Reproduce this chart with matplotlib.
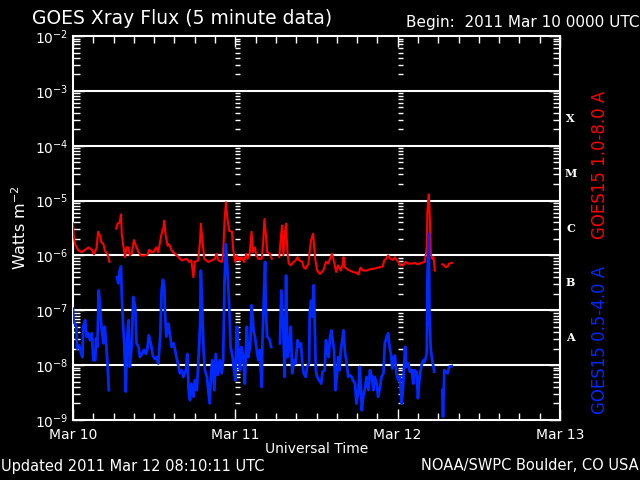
import numpy as np
import matplotlib
matplotlib.use('Agg')
import matplotlib.pyplot as plt
from matplotlib.ticker import LogLocator, FixedLocator, NullFormatter

nan = np.nan

# ================================================
# Donnees (heures depuis 2011 Mar 10 0000 UTC, W/m2)
# GOES15 1.0-8.0 A (rouge)
t_long = [0.0, 0.1, 0.3, 0.8, 1.3, 1.8, 2.3, 2.8, 3.1, 3.5, 3.7, 4.0, 4.2, 4.5, 4.7, 5.1, 5.4, 5.9,
          6.4, 6.6, 6.9, 7.1, 7.2, 7.4, 7.7, 7.9, 8.2, 8.4, 8.7, 9.0, 9.3, 9.7, 10.0, 10.6, 11.0, 11.3,
          11.6, 11.9, 12.3, 12.6, 13.1, 13.4, 13.5, 13.7, 14.0, 14.2, 14.6, 15.1, 15.6, 16.1, 16.8,
          17.2, 17.5, 17.8, 18.0, 18.5, 18.8, 18.9, 19.2, 19.4, 20.0, 20.5, 21.0, 21.2, 21.5, 22.0,
          22.2, 22.4, 22.6, 22.8, 23.1, 23.5, 23.7, 24.0, 24.2, 24.6, 24.9, 25.3, 25.6, 25.8, 26.1,
          26.3, 26.4, 26.6, 26.9, 27.1, 27.4, 27.9, 28.1, 28.3, 28.5, 28.7, 29.1, 29.4, 30.0,
          30.5, 30.7, 30.9, 31.1, 31.3, 31.5, 31.7, 31.9, 32.2, 32.6, 32.9, 33.2, 33.5, 33.9, 34.1,
          34.4, 34.8, 35.0, 35.2, 35.5, 35.8, 36.1, 36.5, 37.0, 37.4, 37.7, 38.1, 38.3, 38.6, 38.9,
          39.2, 39.6, 39.9, 40.0, 40.2, 40.5, 40.9, 41.4, 41.9, 42.2, 42.5, 42.9, 43.4, 43.9, 44.4,
          44.9, 45.4, 45.8, 46.0, 46.3, 46.6, 46.9, 47.3, 47.6, 47.7, 48.1, 48.4, 48.8, 49.2, 49.6,
          50.1, 50.5, 51.0, 51.5, 52.0, 52.3, 52.4, 52.6, 52.7, 52.9, 53.1, 53.3, 53.5, 54.0,
          54.6, 54.9, 55.1, 55.4, 55.6, 56.0]
f_long = [3.8e-6, 2.3e-6, 1.6e-6, 1.23e-6, 1.15e-6, 1.27e-6, 1.4e-6, 1.27e-6, 1.04e-6, 1.4e-6, 2.7e-6,
          2.3e-6, 1.75e-6, 1.6e-6, 1.23e-6, 1.07e-6, 7.6e-7, nan,
          3.1e-6, 3.8e-6, 4.0e-6, 5.6e-6, 2.5e-6, 1.6e-6, 9.3e-7, 1.4e-6, 1.4e-6, 1.0e-6, 1.1e-6,
          1.9e-6, 1.5e-6, 1.15e-6, 1.0e-6, 1.0e-6, 1.03e-6, 1.27e-6,
          1.15e-6, 1.15e-6, 1.4e-6, 1.15e-6, 2.5e-6, 3.3e-6, 4.3e-6, 2.3e-6, 1.5e-6, 1.6e-6, 1.23e-6,
          1.07e-6, 9.3e-7, 8.1e-7, 8.7e-7,
          7.6e-7, 8.1e-7, 4.0e-7, 7.6e-7, 8.1e-7, 1.9e-6, 3.8e-6, 1.6e-6, 8.7e-7, 7.6e-7, 8.1e-7,
          8.7e-7, 1.07e-6, 8.1e-7, 7.6e-7,
          1.07e-6, 4.3e-6, 9.3e-6, 5.0e-6, 2.8e-6, 2.7e-6, 1.23e-6, 7.6e-7, 1.0e-6, 8.1e-7, 9.3e-7,
          7.6e-7, 1.07e-6, 8.7e-7, 1.0e-6,
          1.9e-6, 2.7e-6, 1.15e-6, 1.4e-6, 1.0e-6, 8.7e-7, 8.7e-7, 1.6e-6, 4.6e-6, 2.5e-6, 1.15e-6,
          1.07e-6, 8.7e-7, nan,
          9.3e-7, 1.9e-6, 3.5e-6, 1.0e-6, 2.3e-6, 3.8e-6, 1.15e-6, 7.1e-7, 6.6e-7, 7.6e-7, 8.1e-7,
          9.3e-7, 8.1e-7, 7.6e-7, 6.1e-7,
          5.7e-7, 7.1e-7, 1.23e-6, 1.9e-6, 2.5e-6, 8.7e-7, 5.3e-7, 4.6e-7, 5.3e-7, 7.6e-7, 7.1e-7,
          9.3e-7, 1.07e-6, 7.6e-7, 5.0e-7,
          6.6e-7, 5.3e-7, 7.1e-7, 9.3e-7, 6.1e-7, 5.7e-7, 5.3e-7, 5.0e-7, 4.8e-7, 4.5e-7, 6.0e-7,
          5.3e-7, 5.3e-7, 5.6e-7, 5.7e-7,
          5.9e-7, 6.1e-7, 6.3e-7, 8.1e-7, 8.7e-7, 1.0e-6, 8.7e-7, 8.3e-7, 9.3e-7, 8.7e-7, 7.6e-7,
          6.6e-7, 6.6e-7, 7.6e-7, 7.1e-7,
          7.1e-7, 7.3e-7, 6.9e-7, 7.3e-7, 7.6e-7, 1.4e-6, 6.6e-6, 1.29e-5, 7.6e-6, 1.07e-6, 8.7e-7,
          9.3e-7, 5.3e-7, nan,
          6.9e-7, 6.6e-7, 6.1e-7, 6.3e-7, 7.1e-7, 7.3e-7]

# GOES15 0.5-4.0 A (bleu)
t_short = [0.0, 0.1, 0.3, 0.5, 0.6, 0.9, 1.2, 1.4, 1.5, 1.8, 2.0, 2.3, 2.5, 2.8, 3.0, 3.3, 3.4, 3.6,
           3.8, 4.0, 4.2, 4.5, 4.7, 4.9, 5.1, 5.3, 5.9,
           6.5, 6.7, 6.9, 7.1, 7.2, 7.4, 7.6, 7.8, 8.0, 8.2, 8.4, 8.7, 8.9, 9.2, 9.4, 9.7, 9.9, 10.2,
           10.5, 10.8, 11.0, 11.2, 11.5, 11.8, 12.1, 12.4, 12.6, 12.9, 13.1, 13.3, 13.5, 13.6, 13.8,
           14.1, 14.3, 14.6, 14.9, 15.2, 15.6, 15.8, 16.1, 16.3, 16.7, 16.9, 17.1, 17.3, 17.5, 17.8,
           18.0, 18.3, 18.5, 18.8, 18.9, 19.1, 19.3, 19.5, 19.8, 20.0, 20.2, 20.4, 20.6, 20.9, 21.1,
           21.4, 21.7, 22.0, 22.2, 22.4, 22.6, 22.9, 23.1, 23.3, 23.6, 23.8, 24.0, 24.2, 24.3, 24.5,
           24.7, 24.9, 25.2, 25.4, 25.7, 25.9, 26.2, 26.4, 26.6, 26.7, 26.9, 27.1, 27.4, 27.6, 27.9,
           28.0, 28.2, 28.4, 28.5, 28.7, 29.0, 29.3, 30.0,
           30.6, 30.8, 31.1, 31.3, 31.5, 31.7, 31.9, 32.2, 32.4, 32.7, 32.9, 33.2, 33.4, 33.7, 33.9,
           34.1, 34.4, 34.6, 34.9, 35.0, 35.2, 35.4, 35.6, 35.8, 35.9, 36.1, 36.4, 36.7, 36.9, 37.2,
           37.4, 37.6, 37.8, 38.0, 38.2, 38.4, 38.6, 38.8, 39.0, 39.2, 39.4, 39.6, 39.8, 40.0, 40.2,
           40.4, 40.7, 40.9, 41.2, 41.4, 41.7, 41.9, 42.2, 42.4, 42.7, 42.9, 43.2, 43.4, 43.7, 43.9,
           44.2, 44.4, 44.6, 44.9, 45.1, 45.4, 45.6, 45.9, 46.1, 46.4, 46.6, 46.8, 47.0, 47.2, 47.4,
           47.6, 47.8, 48.1, 48.3, 48.6, 48.8, 49.1, 49.3, 49.6, 49.8, 50.1, 50.3, 50.5, 50.8, 51.0,
           51.2, 51.4, 51.6, 51.8, 52.0, 52.3, 52.4, 52.6, 52.7, 52.9, 53.1, 53.3, 53.4, 54.0,
           54.6, 54.7, 54.9, 55.1, 55.4, 55.6, 56.0]
f_short = [1.07e-7, 6.1e-8, 5.7e-8, 5.0e-8, 2.0e-8, 2.3e-8, 1.6e-8, 1.4e-8, 5.0e-8, 6.6e-8, 3.3e-8,
           3.8e-8, 2.85e-8, 3.8e-8, 1.23e-8, 1.23e-8, 3.05e-8, 2.15e-8,
           2.3e-7, 1.15e-7, 5.0e-8, 2.5e-8, 5.0e-8, 2.5e-8, 1.07e-8, 3.5e-9, nan,
           4.0e-7, 3.1e-7, 5.3e-7, 6.3e-7, 2.0e-7, 5.7e-8, 2.15e-8, 3.3e-9, 2.85e-8, 6.6e-8, 9.3e-9,
           2.5e-8, 1.75e-7, 1.15e-7, 2.5e-8, 2.15e-8, 1.4e-8, 1.6e-8,
           1.9e-8, 1.6e-8, 2.0e-8, 3.5e-8, 2.5e-8, 1.5e-8, 1.3e-8, 1.4e-8, 1.07e-8, 3.3e-8, 2.3e-7,
           3.6e-7, 2.65e-7, 8.7e-8, 3.3e-8,
           5.7e-8, 3.8e-8, 2.15e-8, 2.5e-8, 1.6e-8, 9.3e-9, 7.1e-9, 8.1e-9, 6.1e-9, 8.1e-9, 1.6e-8,
           3.5e-9, 2.3e-9, 4.6e-9, 2.65e-9,
           5.3e-9, 3.5e-9, 9.3e-9, 5.7e-8, 5.3e-7, 1.15e-7, 1.9e-8, 8.1e-9, 6.1e-9, 3.5e-9, 2.0e-9,
           7.1e-9, 1.23e-8, 3.5e-9, 1.6e-8,
           6.6e-9, 1.23e-8, 7.1e-9, 1.23e-8, 3.1e-7, 1.6e-6, 4.0e-7, 1.15e-7, 2.15e-8, 1.4e-8, 8.1e-9,
           5.3e-9, 5.0e-8, 5.0e-8, 1.4e-8,
           8.1e-9, 2.15e-8, 1.4e-8, 4.6e-9, 5.0e-8, 1.4e-8, 2.15e-8, 1.23e-7, 6.6e-8, 4.3e-8, 3.3e-8,
           2.15e-8, 1.23e-8, 1.9e-8, 4.0e-9,
           2.5e-8, 1.5e-7, 7.6e-7, 1.15e-7, 3.3e-8, 3.05e-8, 2.15e-8, nan,
           2.5e-8, 2.3e-7, 4.3e-8, 6.1e-9, 4.3e-7, 1.4e-8, 1.9e-8, 5.0e-8, 7.1e-9, 1.23e-8, 1.07e-8,
           2.85e-8, 2.15e-8, 2.5e-8, 1.07e-8,
           7.1e-9, 6.1e-9, 9.3e-9, 1.07e-8, 8.7e-8, 1.5e-7, 7.6e-8, 2.85e-7, 2.5e-8, 8.1e-9, 6.1e-9,
           5.3e-9, 4.6e-9, 7.6e-9, 8.1e-9,
           2.85e-8, 1.9e-8, 1.4e-8, 3.3e-8, 4.3e-8, 2.85e-8, 1.9e-8, 3.5e-9, 6.1e-9, 1.4e-8, 8.1e-9,
           1.9e-8, 2.85e-8, 4.3e-8, 1.75e-8,
           1.23e-8, 6.1e-9, 6.6e-9, 6.1e-9, 5.3e-9, 4.6e-9, 2.0e-9, 3.5e-9, 9.3e-9, 1.5e-9, 2.65e-9,
           4.0e-9, 6.1e-9, 3.5e-9, 8.1e-9,
           6.1e-9, 3.5e-9, 6.1e-9, 4.6e-9, 2.65e-9, 4.0e-9, 6.1e-9, 7.1e-9, 2.5e-8, 3.3e-8, 3.8e-8,
           2.15e-8, 1.6e-8, 8.7e-9, 1.4e-8,
           1.5e-8, 7.1e-9, 5.3e-9, 6.1e-9, 2.0e-9, 4.0e-9, 2.15e-8, 9.3e-9, 1.07e-8, 7.6e-9, 8.1e-9,
           4.6e-9, 8.1e-9, 7.6e-9, 2.5e-9,
           5.3e-9, 8.1e-9, 1.07e-8, 1.23e-8, 1.15e-8, 1.6e-8, 4.0e-7, 2.5e-6, 8.7e-8, 1.9e-8, 1.23e-8,
           9.3e-9, 7.6e-9, nan,
           3.5e-9, 1.15e-9, 8.1e-9, 7.6e-9, 7.1e-9, 9.3e-9, 9.6e-9]

day_ticks = [0, 24, 48, 72]
day_labels = ['Mar 10', 'Mar 11', 'Mar 12', 'Mar 13']
classes = ['X', 'M', 'C', 'B', 'A']
class_levels = [10**-3.5, 10**-4.5, 10**-5.5, 10**-6.5, 10**-7.5]

# ================================================
# Graphe
fig = plt.figure(figsize=(6.4, 4.8), dpi=100, facecolor='black')
ax = fig.add_axes([73/640, 60/480, 487/640, 384/480], facecolor='black')

ax.plot(t_long, f_long, color='#ff0000', lw=1.5, zorder=4)
ax.plot(t_short, f_short, color='#0028ff', lw=2.0, zorder=4)

ax.set_yscale('log')
ax.set_ylim(1e-9, 1e-2)
ax.set_xlim(0, 72)

# lignes horizontales a chaque decade
for k in range(-8, -2):
    ax.axhline(10.0**k, color='white', lw=1.5, zorder=3)

# petits traits aux changements de jour (Mar 11, Mar 12)
sub = [m * 10.0**k for k in range(-9, -2) for m in range(2, 10)]
for d in day_ticks[1:3]:
    ax.hlines(sub, d, d + 0.75, color='white', lw=1, zorder=3)

ax.yaxis.set_major_locator(LogLocator(base=10, numticks=20))
ax.yaxis.set_minor_locator(LogLocator(base=10, subs=range(2, 10), numticks=20))
ax.yaxis.set_minor_formatter(NullFormatter())
ax.xaxis.set_major_locator(FixedLocator(day_ticks))
ax.xaxis.set_minor_locator(FixedLocator(np.arange(0, 73, 3)))
ax.set_xticklabels(day_labels)

ax.tick_params(which='both', direction='in', colors='white', top=True, right=True,
               labelsize=10, width=1)
ax.tick_params(which='major', length=8)
ax.tick_params(which='minor', length=5)
ax.tick_params(axis='x', pad=6)
for s in ax.spines.values():
    s.set_color('white')
    s.set_linewidth(1.5)

ax.set_xlabel('Universal Time', color='white', fontsize=10, labelpad=0)
ax.set_ylabel('Watts m$^{-2}$', color='white', fontsize=11.5, labelpad=4)

# classes de flares
for c, lv in zip(classes, class_levels):
    ax.text(1.022, lv, c, transform=ax.get_yaxis_transform(), color='white',
            fontsize=8, fontweight='bold', family='DejaVu Serif', ha='center', va='center')

fig.text(600/640, 1 - 165/480, 'GOES15 1.0-8.0 A', color='#ff0000', rotation=90,
         fontsize=12, ha='center', va='center')
fig.text(600/640, 1 - 340/480, 'GOES15 0.5-4.0 A', color='#0028ff', rotation=90,
         fontsize=12, ha='center', va='center')

fig.text(32/640, 1 - 18/480, 'GOES Xray Flux (5 minute data)', color='white',
         fontsize=13.5, ha='left', va='center')
fig.text(1 - 1/640, 1 - 22/480, 'Begin:  2011 Mar 10 0000 UTC', color='white',
         fontsize=11, ha='right', va='center')
fig.text(1/640, 1 - 466/480, 'Updated 2011 Mar 12 08:10:11 UTC', color='white',
         fontsize=10.5, ha='left', va='center')
fig.text(1 - 1/640, 1 - 466/480, 'NOAA/SWPC Boulder, CO USA', color='white',
         fontsize=10.5, ha='right', va='center')

fig.savefig('out.png', dpi=100, facecolor='black')
